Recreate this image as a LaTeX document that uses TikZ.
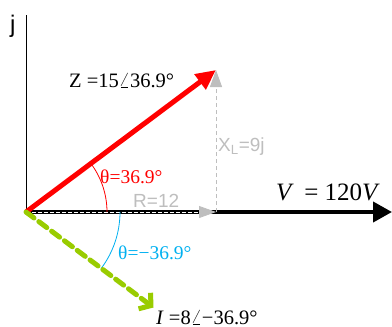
\documentclass[tikz,border=0pt]{standalone}
\usepackage{fontspec}
\setmainfont{Liberation Serif}
\setsansfont{Liberation Sans}
\usetikzlibrary{arrows.meta,calc}
\definecolor{zred}{RGB}{255,0,0}
\definecolor{igreen}{RGB}{153,204,0}
\definecolor{tblue}{RGB}{0,176,240}
\definecolor{lgrey}{RGB}{190,190,190}
\tikzset{
  lbl/.style={inner sep=0pt, anchor=base west},
  serifbig/.style={lbl, font=\fontsize{20.5}{20.5}\selectfont},
  thetalbl/.style={lbl, font=\fontsize{19.5}{19.5}\selectfont},
  sanslbl/.style={lbl, font=\sffamily\fontsize{19}{19}\selectfont, text=lgrey},
}
\begin{document}
\begin{tikzpicture}[x=1pt,y=-1pt]
\useasboundingbox (0,0) rectangle (392,327);
\coordinate (O) at (26,212);
\coordinate (Ytop) at (26,15);
\coordinate (Vend) at (392,212);
\coordinate (Ztip) at (216,70);
\coordinate (Rtip) at (216,212);
\coordinate (Rmid) at (200,212);
\coordinate (Itip) at (153.5,307.5);
% vertical axis
\draw[line width=1pt] (O) -- (Ytop);
\node[font=\sffamily\fontsize{24}{24}\selectfont, lbl] (j) at (10,32) {j};
% V phasor
\draw[line width=4pt, -{Triangle[length=19pt,width=20pt]}] (O) -- (Vend);
% R arrow (white dashed over black)
\draw[white, line width=0.8pt, dash pattern=on 4pt off 2pt] (O) -- (Rmid);
\draw[lgrey, line width=0.8pt, -{Triangle[length=17pt,width=12pt]}] (Rmid) -- (Rtip);
% X_L arrow
\draw[lgrey, line width=1pt, dash pattern=on 4pt off 3pt, -{Triangle[length=17pt,width=12pt]}] (Rtip) -- (Ztip);
% angle arcs
\draw[zred, line width=0.8pt] ($(O)+(81,0)$) arc[start angle=0, end angle=36.87, radius=81pt];
\draw[tblue, line width=0.8pt] ($(O)+(94,0)$) arc[start angle=0, end angle=-36.87, radius=94pt];
% Z phasor
\draw[zred, line width=5pt, -{Triangle[length=20pt,width=18pt]}] (O) -- (Ztip);
% I phasor
\draw[igreen, line width=5pt, dash pattern=on 10pt off 6pt, line cap=round, -{Straight Barb[length=8pt,width=20pt]}] (O) -- (Itip);
% labels
\node[serifbig] (zl) at (69,87) {Z =15$\angle$36.9°};
\node[serifbig] (il) at (156,324) {\textit{I} =8$\angle$−36.9°};
\node[lbl, font=\fontsize{25}{25}\selectfont] (vl) at (276,200) {\textit{V}\, = 120\textit{V}};
\node[thetalbl, text=zred] (t1) at (100,183) {θ=36.9°};
\node[thetalbl, text=tblue] (t2) at (118,259) {θ=−36.9°};
\node[sanslbl] (rl) at (133,207) {R=12};
\node[sanslbl] (xl) at (218,151) {X\textsubscript{L}=9j};
\end{tikzpicture}
\end{document}
